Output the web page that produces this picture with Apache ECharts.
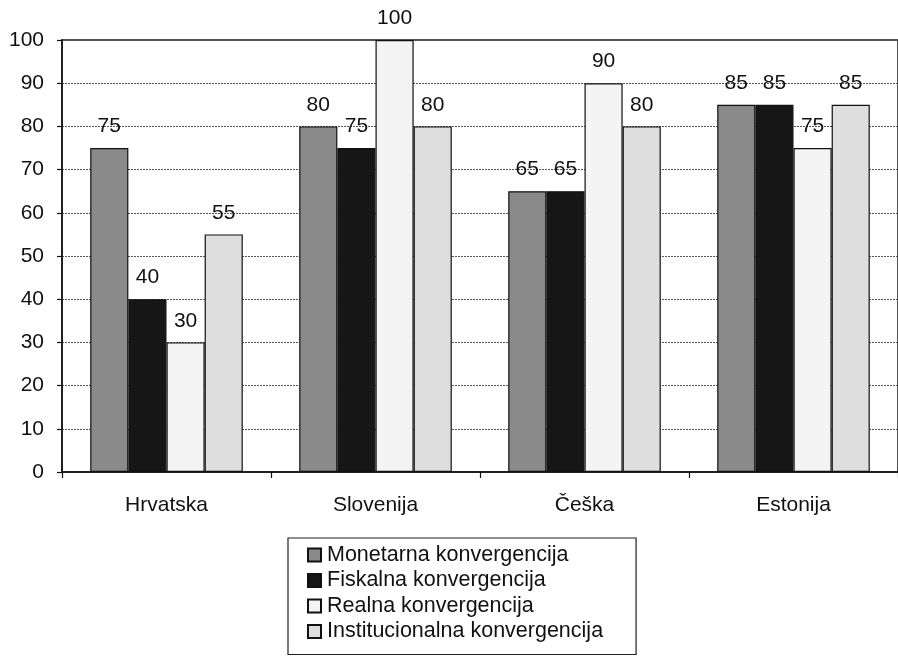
<!DOCTYPE html>
<html>
<head>
<meta charset="utf-8">
<script src="https://cdn.jsdelivr.net/npm/echarts@6/dist/echarts.min.js"></script>
<style>
  html, body { margin: 0; padding: 0; background: #fff; }
  #chart { width: 898px; height: 671px; }
</style>
</head>
<body>
<div id="chart"></div>
<script>
// Countries on the category axis
const countries = ['Hrvatska', 'Slovenija', 'Češka', 'Estonija'];

// Convergence scores per type
const monetarna = [75, 80, 65, 85];
const fiskalna = [40, 75, 65, 85];
const realna = [30, 100, 90, 75];
const institucionalna = [55, 80, 80, 85];

const seriesNames = [
  'Monetarna konvergencija',
  'Fiskalna konvergencija',
  'Realna konvergencija',
  'Institucionalna konvergencija'
];

const yTicks = [0, 10, 20, 30, 40, 50, 60, 70, 80, 90, 100];

const fillColors = ['#8a8a8a', '#161616', '#f4f4f4', '#dedede'];
const font = 'Liberation Sans, Arial, sans-serif';

const values = [monetarna, fiskalna, realna, institucionalna];

const chart = echarts.init(document.getElementById('chart'), null, { renderer: 'canvas' });

chart.setOption({
  animation: false,
  backgroundColor: '#ffffff',
  textStyle: { fontFamily: font, color: '#111' },
  grid: {
    left: 62, right: -6, top: 40, bottom: 199,
    show: true, borderColor: '#1a1a1a', borderWidth: 1.5, backgroundColor: 'transparent'
  },
  xAxis: {
    type: 'category',
    data: countries,
    axisLine: { lineStyle: { color: '#111', width: 1.5 } },
    axisTick: { show: true, length: 6, lineStyle: { color: '#111', width: 1.2 } },
    axisLabel: { fontSize: 21, color: '#111', margin: 23, fontFamily: font }
  },
  yAxis: {
    type: 'value',
    min: yTicks[0],
    max: yTicks[yTicks.length - 1],
    interval: 10,
    axisLine: { show: true, lineStyle: { color: '#111', width: 1.5 } },
    axisTick: { show: true, length: 5, lineStyle: { color: '#111', width: 1.2 } },
    axisLabel: { fontSize: 21, color: '#111', margin: 18, fontFamily: font },
    splitLine: { show: true, lineStyle: { color: '#555', type: [2, 1], width: 1.2 } }
  },
  legend: {
    orient: 'vertical',
    left: 288,
    top: 538,
    padding: [6, 33, 12, 19],
    backgroundColor: '#fff',
    borderColor: '#222',
    borderWidth: 1.2,
    borderRadius: 0,
    itemWidth: 13,
    itemHeight: 13,
    itemGap: 3.5,
    icon: 'rect',
    textStyle: { fontSize: 21.5, color: '#111', fontFamily: font, padding: [0, 0, 0, 1], lineHeight: 21 },
    data: seriesNames
  },
  series: seriesNames.map((name, i) => ({
    name: name,
    type: 'bar',
    data: values[i],
    barGap: '0%',
    barCategoryGap: '27%',
    itemStyle: { color: fillColors[i], borderColor: '#111', borderWidth: 1.2 },
    label: {
      show: true,
      position: 'top',
      distance: 11,
      fontSize: 21,
      color: '#111',
      fontFamily: font
    }
  }))
});
</script>
</body>
</html>
